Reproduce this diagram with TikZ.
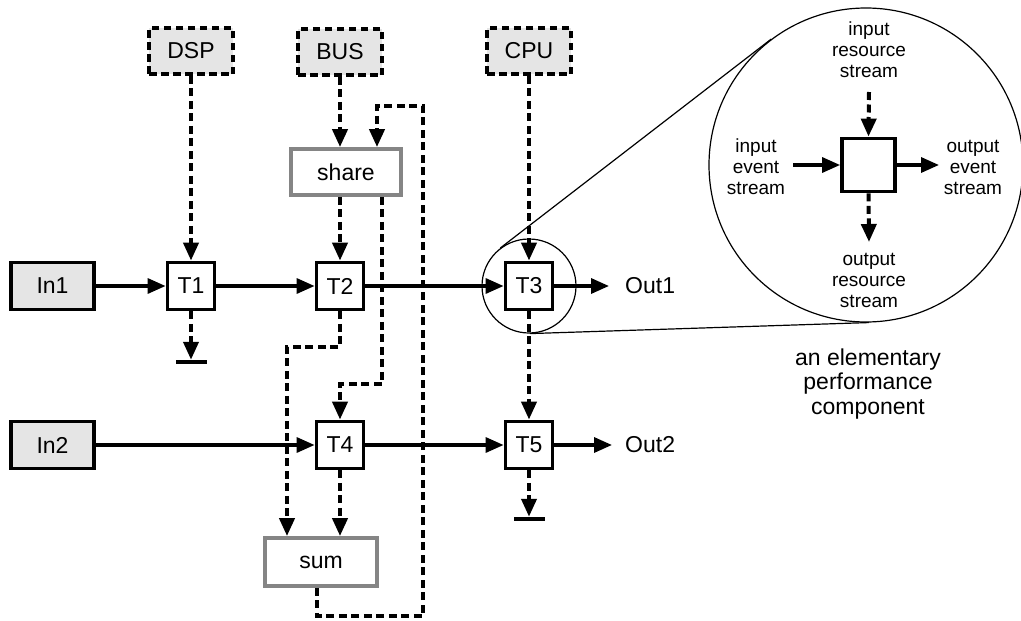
\documentclass[tikz,border=0pt]{standalone}
\usepackage{fontspec}
\setmainfont{Liberation Sans}
\usetikzlibrary{arrows.meta}
\definecolor{boxgray}{gray}{0.9}
\definecolor{edgegray}{gray}{0.52}
\newcommand\fmain{\fontsize{23}{24.5}\selectfont}
\newcommand\fsmall{\fontsize{19}{21}\selectfont}
\begin{document}
\begin{tikzpicture}[x=1pt,y=-1pt,
  tri/.style={-{Triangle[length=18pt,width=15pt]}},
  solidline/.style={line width=3.3pt},
  dashline/.style={line width=4pt, dash pattern=on 8pt off 4.5pt},
  thinline/.style={line width=1.2pt},
  resbox/.style={draw, line width=3.8pt, dash pattern=on 7.5pt off 4.5pt, fill=boxgray,
    minimum width=84pt, minimum height=46pt, inner sep=0pt, font=\fmain},
  inbox/.style={draw, line width=3.8pt, fill=boxgray,
    minimum width=83pt, minimum height=47pt, inner sep=0pt, font=\fmain},
  tbox/.style={draw, line width=3.8pt, fill=white,
    minimum width=47pt, minimum height=47pt, inner sep=0pt, font=\fmain},
  opbox/.style={draw=edgegray, line width=3.8pt, fill=white,
    minimum width=110pt, minimum height=46pt, inner sep=0pt, font=\fmain},
  gbar/.style={fill=black, draw=none, minimum width=31pt, minimum height=4.5pt, inner sep=0pt, outer sep=0pt},
  lbl/.style={font=\fmain, inner sep=0pt},
  slbl/.style={font=\fsmall, align=center, inner sep=0pt}
]
\useasboundingbox (0,0) rectangle (1021,621);

% zoom circles
\node[circle, draw, thinline, minimum size=94pt, inner sep=0pt] (zc) at (529,286) {};
\node[circle, draw, thinline, minimum size=314pt, inner sep=0pt] (bc) at (866,165) {};
\draw[thinline] (zc.127.6) -- (bc.127.6);
\draw[thinline] (zc.271.9) -- (bc.271.9);

% resources
\node[resbox] (dsp) at (191,51) {DSP};
\node[resbox] (bus) at (340,52) {BUS};
\node[resbox] (cpu) at (529,51) {CPU};

% operators
\node[opbox] (share) at (346,172) {share};
\node[opbox, minimum width=112pt, minimum height=48pt] (sum) at (321,562) {sum};

% inputs
\node[inbox] (in1) at (52.5,286) {In1};
\node[inbox] (in2) at (52.5,445) {In2};

% tasks
\node[tbox] (t1) at (191,286) {T1};
\node[tbox] (t2) at (340,286) {T2};
\node[tbox] (t3) at (529,286) {T3};
\node[tbox] (t4) at (340,445) {T4};
\node[tbox] (t5) at (529,445) {T5};

% outputs
\node[lbl, anchor=west] (out1) at (625,286) {Out1};
\node[lbl, anchor=west] (out2) at (625,445) {Out2};

% ground bars
\node[gbar] (g1) at (191,362) {};
\node[gbar] (g2) at (529,519) {};

% helper coordinates
\coordinate (j1) at (340,384);
\coordinate (j2) at (287,347);
\coordinate (lb) at (423,616);
\coordinate (lt) at (423,106);
\coordinate (ls) at (377,106);

% dashed resource connections
\draw[dashline,tri] (dsp) -- (t1);
\draw[dashline,tri] (bus.south) -- (bus.south |- share.north);
\draw[dashline,tri] (share.south -| t2.north) -- (t2.north);
\draw[dashline,tri] ([xshift=36pt]share.south) |- (j1) -- (t4.north);
\draw[dashline,tri] (t2.south) |- (j2) -- (j2 |- sum.north);
\draw[dashline,tri] (t4.south) -- (t4.south |- sum.north);
\draw[dashline,tri] ([xshift=-4pt]sum.south) |- (lb) -- (lt) -- (ls) -- (ls |- share.north);
\draw[dashline,tri] (t1) -- (g1.north);
\draw[dashline,tri] (cpu) -- (t3);
\draw[dashline,tri] (t3) -- (t5);
\draw[dashline,tri] (t5) -- (g2.north);

% event streams
\draw[solidline,tri] (in1) -- (t1);
\draw[solidline,tri] (t1) -- (t2);
\draw[solidline,tri] (t2) -- (t3);
\draw[solidline,tri, shorten >=16pt] (t3) -- (out1.west);
\draw[solidline,tri] (in2) -- (t4);
\draw[solidline,tri] (t4) -- (t5);
\draw[solidline,tri, shorten >=13pt] (t5) -- (out2.west);

% elementary component
\node[tbox, minimum width=53pt, minimum height=53pt] (sq) at (868.5,165) {};
\node[slbl] (inres) at (869,50) {input\\resource\\stream};
\node[slbl] (outres) at (869,280) {output\\resource\\stream};
\node[slbl] (inev) at (756,167) {input\\event\\stream};
\node[slbl] (outev) at (973,167) {output\\event\\stream};
\coordinate (a1) at (869,92);
\coordinate (a2) at (869,242);
\coordinate (a3) at (793,165);
\coordinate (a4) at (939,165);
\draw[dashline,tri] (a1) -- (sq.north);
\draw[dashline,tri] (sq.south) -- (a2);
\draw[solidline,tri] (a3) -- (sq.west);
\draw[solidline,tri] (sq.east) -- (a4);

\node[lbl, align=center] (cap) at (868,384) {an elementary\\performance\\component};
\end{tikzpicture}
\end{document}
